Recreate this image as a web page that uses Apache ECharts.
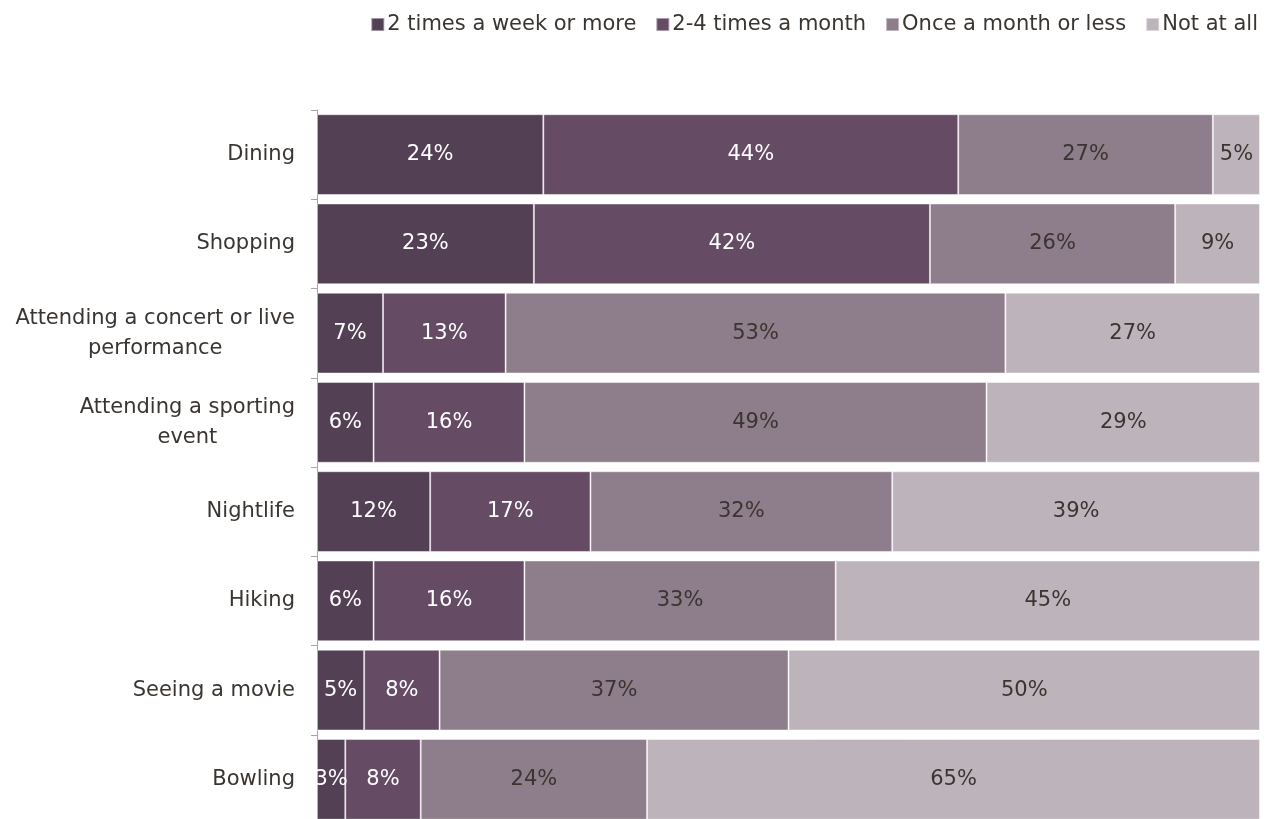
<!DOCTYPE html>
<html>
<head>
<meta charset="utf-8">
<script src="https://cdn.jsdelivr.net/npm/echarts@6/dist/echarts.min.js"></script>
<style>
  html, body { margin: 0; padding: 0; background: #fff; }
  #chart { width: 1272px; height: 819px; }
</style>
</head>
<body>
<div id="chart"></div>
<script>
// Activities, top to bottom
const categories = [
  'Dining',
  'Shopping',
  'Attending a concert or live\nperformance',
  'Attending a sporting\nevent',
  'Nightlife',
  'Hiking',
  'Seeing a movie',
  'Bowling'
];

// Share of respondents (%) per frequency group
const twiceWeekly   = [24, 23, 7, 6, 12, 6, 5, 3];
const twoToFour     = [44, 42, 13, 16, 17, 16, 8, 8];
const monthlyOrLess = [27, 26, 53, 49, 32, 33, 37, 24];
const notAtAll      = [5, 9, 27, 29, 39, 45, 50, 65];

const seriesNames = ['2 times a week or more', '2-4 times a month', 'Once a month or less', 'Not at all'];
const seriesData = [twiceWeekly, twoToFour, monthlyOrLess, notAtAll];
const colors = ['#544054', '#654c64', '#8e7d8a', '#bdb4bb'];
const labelColors = ['#ffffff', '#ffffff', '#3a3530', '#3a3530'];

const FONT = 'DejaVu Sans';
const FS = 21;

const chart = echarts.init(document.getElementById('chart'), null, { renderer: 'canvas' });

chart.setOption({
  animation: false,
  textStyle: { fontFamily: FONT },
  legend: {
    top: 9,
    right: 9,
    itemWidth: 13,
    itemHeight: 13,
    itemGap: 19,
    icon: 'rect',
    textStyle: { fontSize: FS, color: '#3a3530', fontFamily: FONT, padding: [0, 0, 0, -2] },
    data: seriesNames
  },
  grid: {
    left: 317,
    right: 12,
    top: 110,
    height: 714,
    outerBoundsMode: 'none',
    containLabel: false
  },
  xAxis: {
    type: 'value',
    min: 0,
    max: 100,
    show: false
  },
  yAxis: {
    type: 'category',
    inverse: true,
    data: categories,
    axisLine: { show: true, lineStyle: { color: '#a6a6a6', width: 1 } },
    axisTick: { show: true, length: 6, lineStyle: { color: '#a6a6a6' } },
    axisLabel: {
      color: '#3a3530',
      fontFamily: FONT,
      fontSize: FS,
      margin: 22,
      align: 'right',
      // each line centred inside the label block, block anchored at the axis
      formatter: v => v.split('\n').map(s => '{c|' + s + '}').join('\n'),
      rich: {
        c: { align: 'center', fontSize: FS, fontFamily: FONT, color: '#3a3530', lineHeight: 30 }
      }
    }
  },
  series: seriesData.map((d, i) => ({
    name: seriesNames[i],
    type: 'bar',
    stack: 'total',
    barCategoryGap: '9.5%',
    data: d,
    itemStyle: { color: colors[i], borderColor: 'rgba(255,255,255,0.45)', borderWidth: 1 },
    label: {
      show: true,
      position: 'inside',
      formatter: p => p.value + '%',
      color: labelColors[i],
      fontSize: FS,
      fontFamily: FONT
    }
  }))
});
</script>
</body>
</html>
